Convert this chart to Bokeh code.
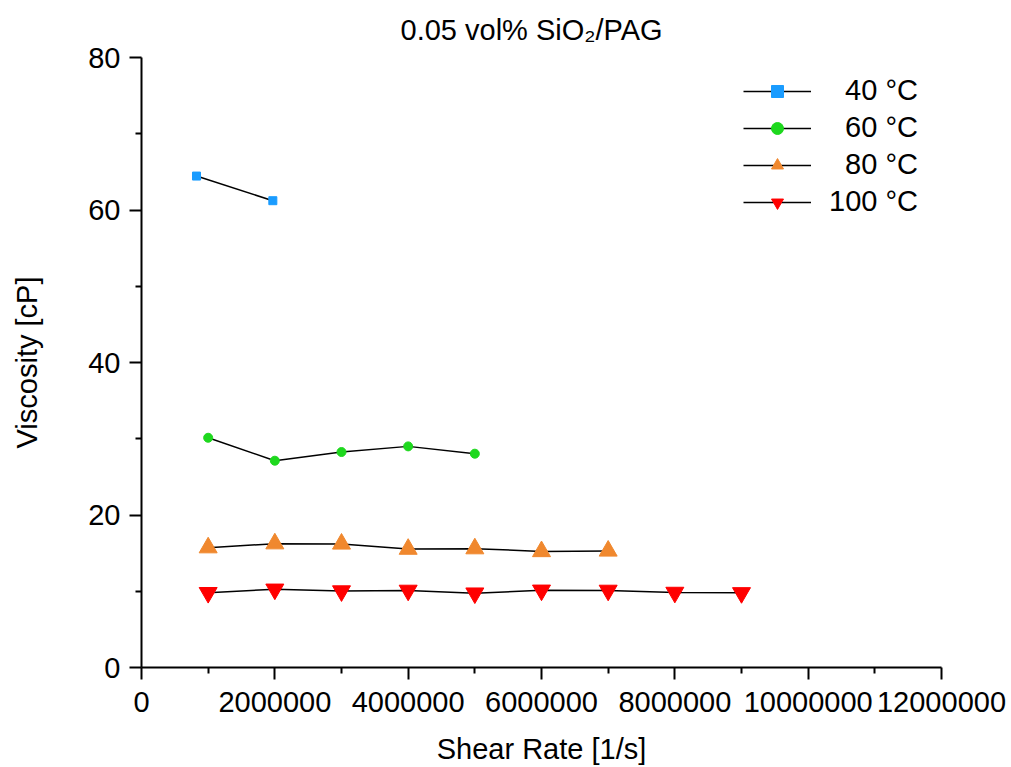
from bokeh.plotting import figure
from bokeh.models import Range1d, FixedTicker, Legend, LegendItem, Title
from bokeh.embed import file_html
from bokeh.resources import INLINE

# ---- data ----
x40 = [825000, 1970000]
y40 = [64.45, 61.22]

x60 = [1000000, 2000000, 3000000, 4000000, 5000000]
y60 = [30.13, 27.12, 28.26, 29.0, 28.04]

x80 = [1000000, 2000000, 3000000, 4000000, 5000000, 6000000, 7000000]
y80 = [15.72, 16.24, 16.21, 15.53, 15.59, 15.22, 15.29]

x100 = [1000000, 2000000, 3000000, 4000000, 5000000, 6000000, 7000000, 8000000, 9000000]
y100 = [9.81, 10.26, 10.03, 10.11, 9.75, 10.13, 10.11, 9.84, 9.79]

labels = ["\u00a0\u00a040 \u00b0C", "\u00a0\u00a060 \u00b0C", "\u00a0\u00a080 \u00b0C", "100 \u00b0C"]

x_ticks = [0, 2000000, 4000000, 6000000, 8000000, 10000000, 12000000]
x_tick_labels = ["0", "2000000", "4000000", "6000000", "8000000", "10000000", "12000000"]
x_minor = [1000000, 3000000, 5000000, 7000000, 9000000, 11000000]
y_ticks = [0, 20, 40, 60, 80]
y_tick_labels = ["0", "20", "40", "60", "80"]
y_minor = [10, 30, 50, 70]

title_text = "0.05 vol% SiO\u2082/PAG"
x_label = "Shear Rate [1/s]"
y_label = "Viscosity [cP]"

FONT = "Liberation Sans"
FS = "29px"

p = figure(width=1011, height=767, output_backend="svg", toolbar_location=None,
           x_range=Range1d(0, 12000000), y_range=Range1d(0, 80),
           min_border_left=141, min_border_right=70, min_border_top=56, min_border_bottom=99)
p.title = Title(text=title_text, align="left", offset=259, text_font=FONT, text_font_size=FS,
                text_font_style="normal", text_color="black", standoff=23)
p.outline_line_color = None
p.xgrid.visible = False
p.ygrid.visible = False
p.background_fill_color = "white"
p.border_fill_color = "white"

p.xaxis.ticker = FixedTicker(ticks=x_ticks, minor_ticks=x_minor)
p.xaxis.major_label_overrides = {t: l for t, l in zip(x_ticks, x_tick_labels)}
p.yaxis.ticker = FixedTicker(ticks=y_ticks, minor_ticks=y_minor)
p.yaxis.major_label_overrides = {t: l for t, l in zip(y_ticks, y_tick_labels)}

for ax in (p.xaxis[0], p.yaxis[0]):
    ax.axis_line_width = 2
    ax.axis_line_color = "black"
    ax.major_tick_line_width = 2
    ax.minor_tick_line_width = 2
    ax.major_tick_line_color = "black"
    ax.minor_tick_line_color = "black"
    ax.major_tick_out = 12
    ax.major_tick_in = 0
    ax.minor_tick_out = 6
    ax.minor_tick_in = 0
    ax.major_label_text_font = FONT
    ax.major_label_text_font_size = FS
    ax.major_label_text_color = "black"
    ax.axis_label_text_font = FONT
    ax.axis_label_text_font_size = FS
    ax.axis_label_text_font_style = "normal"
    ax.axis_label_text_color = "black"

p.xaxis.axis_label = x_label
p.yaxis.axis_label = y_label
p.xaxis.major_label_standoff = 12
p.yaxis.major_label_standoff = 9
p.xaxis.axis_label_standoff = 18
p.yaxis.axis_label_standoff = 42

series = [
    (x40, y40, "square", 8, "#1a9cff"),
    (x60, y60, "circle", 9, "#1ed81e"),
    (x80, y80, "triangle", 18, "#f0882e"),
    (x100, y100, "inverted_triangle", 18, "#ff0000"),
]

items = []
for (xs, ys, mk, sz, col), lab in zip(series, labels):
    ln = p.line(xs, ys, line_color="black", line_width=1.5)
    sc = p.scatter(xs, ys, marker=mk, size=sz, fill_color=col, line_color=col)
    items.append(LegendItem(label=lab, renderers=[ln, sc]))

legend = Legend(items=items, location=(602, 449), padding=0, margin=0,
                glyph_width=68, glyph_height=30, label_height=30, spacing=4,
                label_standoff=18, label_text_font=FONT, label_text_font_size=FS,
                label_text_color="black", border_line_color=None,
                background_fill_alpha=0)
p.add_layout(legend)

open("out.html", "w").write(file_html(p, INLINE))
